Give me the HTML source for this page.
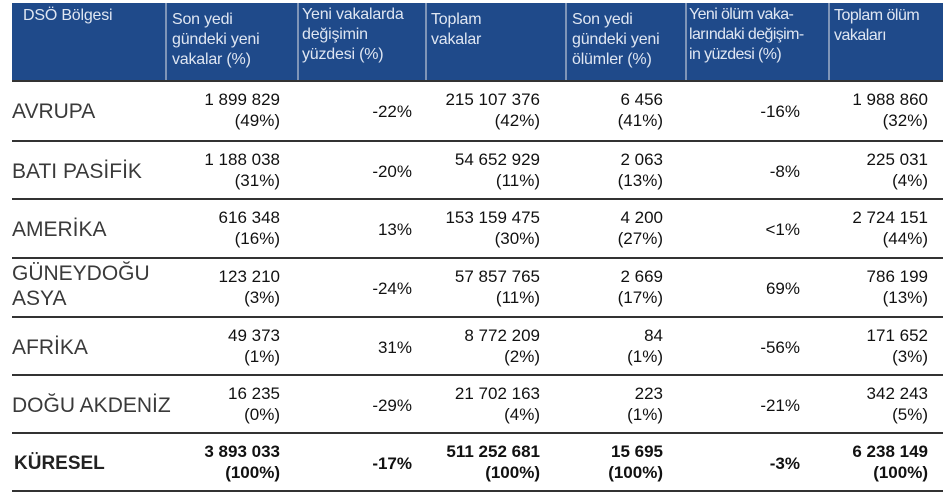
<!DOCTYPE html>
<html><head><meta charset="utf-8"><style>
body{margin:0;width:945px;height:495px;background:#fff;position:relative;overflow:hidden;font-family:"Liberation Sans",sans-serif}
.hd{position:absolute;left:12px;top:3px;width:931px;height:78px;background:#1f4a8a}
.hc{position:absolute;top:10px;color:#dfe6f2;font-size:16px;line-height:20px;letter-spacing:-0.2px}
.vs{position:absolute;top:3px;width:2px;height:78px;background:#7f95b8}
.ln{position:absolute;left:12px;width:931px;height:2px;background:#333}
.rg{position:absolute;left:12px;color:#3a3a3a;font-size:21px;line-height:25px}
.n{position:absolute;text-align:right;font-size:17px;line-height:21px;color:#111;width:200px}
.b{font-weight:bold}
</style></head><body>
<div class="hd"></div>
<div class="vs" style="left:165px"></div><div class="vs" style="left:297px"></div><div class="vs" style="left:425px"></div><div class="vs" style="left:565px"></div><div class="vs" style="left:685px"></div><div class="vs" style="left:828px"></div>
<div class="hc" style="left:23px;top:6px">DSÖ Bölgesi</div>
<div class="hc" style="left:172px">Son yedi<br>gündeki yeni<br>vakalar (%)</div>
<div class="hc" style="left:302px;top:5px">Yeni vakalarda<br>değişimin<br>yüzdesi (%)</div>
<div class="hc" style="left:431px">Toplam<br>vakalar</div>
<div class="hc" style="left:572px">Son yedi<br>gündeki yeni<br>ölümler (%)</div>
<div class="hc" style="left:689px;top:5px;letter-spacing:-0.6px">Yeni ölüm vaka-<br>larındaki değişim-<br>in yüzdesi (%)</div>
<div class="hc" style="left:834px;top:6px;letter-spacing:-0.5px">Toplam ölüm<br>vakaları</div>

<div class="ln" style="top:80px"></div>
<div class="ln" style="top:140px;height:1.5px"></div>
<div class="ln" style="top:198px;height:1.5px"></div>
<div class="ln" style="top:257px;height:1.5px"></div>
<div class="ln" style="top:316px;height:1.5px"></div>
<div class="ln" style="top:374px;height:1.5px"></div>
<div class="ln" style="top:432px;height:1.5px"></div>
<div class="ln" style="top:490px;height:2px"></div>

<div id="rows"></div>
<script>
const R=[
["AVRUPA",80,"1 899 829","(49%)","-22%","215 107 376","(42%)","6 456","(41%)","-16%","1 988 860","(32%)"],
["BATI PASİFİK",140,"1 188 038","(31%)","-20%","54 652 929","(11%)","2 063","(13%)","-8%","225 031","(4%)"],
["AMERİKA",198,"616 348","(16%)","13%","153 159 475","(30%)","4 200","(27%)","<1%","2 724 151","(44%)"],
["GÜNEYDOĞU<br>ASYA",257,"123 210","(3%)","-24%","57 857 765","(11%)","2 669","(17%)","69%","786 199","(13%)"],
["AFRİKA",316,"49 373","(1%)","31%","8 772 209","(2%)","84","(1%)","-56%","171 652","(3%)"],
["DOĞU AKDENİZ",374,"16 235","(0%)","-29%","21 702 163","(4%)","223","(1%)","-21%","342 243","(5%)"],
["KÜRESEL",432,"3 893 033","(100%)","-17%","511 252 681","(100%)","15 695","(100%)","-3%","6 238 149","(100%)"]];
let h="";
R.forEach((r,i)=>{const t=r[1],b=i==6?" b":"";
const two=r[0].includes("<br>");
h+=`<div class="rg${b}" style="top:${two?t+4:t+19}px${i==6?';font-size:19px;left:14px;color:#222':''}">${r[0]}</div>`;
const cols=[[280,2,3],[540,5,6],[663,7,8],[928,10,11]];
cols.forEach(c=>{h+=`<div class="n${b}" style="left:${c[0]-200}px;top:${t+9}px">${r[c[1]]}<br>${r[c[2]]}</div>`});
[[412,4],[800,9]].forEach(c=>{h+=`<div class="n${b}" style="left:${c[0]-200}px;top:${t+21}px">${r[c[1]].replace('<','&lt;')}</div>`});
});
document.getElementById("rows").innerHTML=h;
</script>
</body></html>
